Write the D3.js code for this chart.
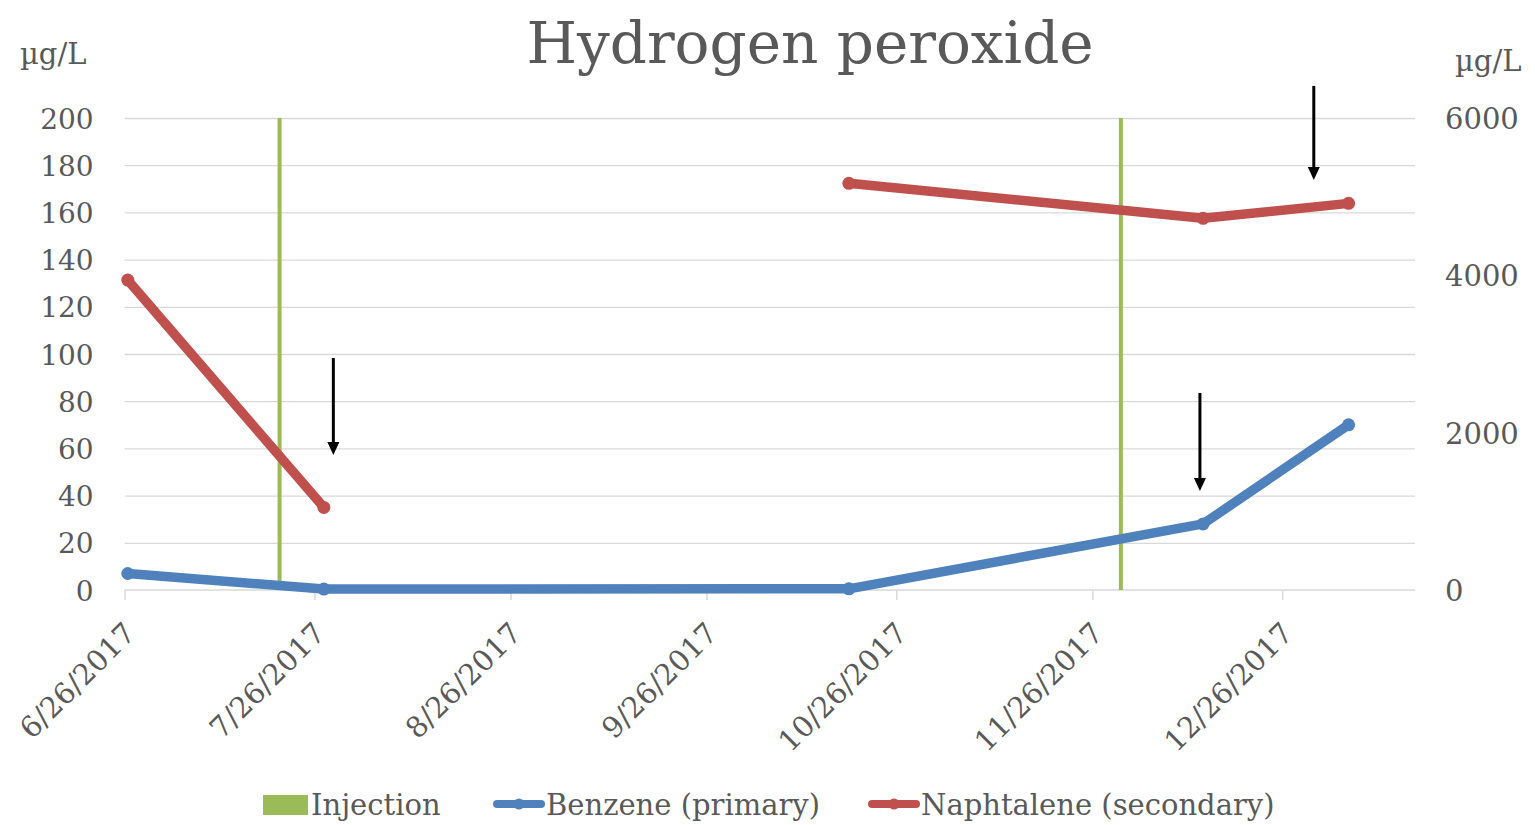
<!DOCTYPE html>
<html>
<head>
<meta charset="utf-8">
<script src="https://cdn.jsdelivr.net/npm/d3@7"></script>
<style>
  html, body { margin: 0; padding: 0; background: #fff; }
  svg { display: block; font-family: "DejaVu Serif", Georgia, serif; }
</style>
</head>
<body>
<script>
// ---------------- data ----------------
const titleText = "Hydrogen peroxide";
const unitLabel = "µg/L";
const xDomain = ["2017-06-26", "2018-01-16"];
const xTickDates = ["2017-06-26", "2017-07-26", "2017-08-26", "2017-09-26", "2017-10-26", "2017-11-26", "2017-12-26"];
const leftTicks = [0, 20, 40, 60, 80, 100, 120, 140, 160, 180, 200];
const rightTicks = [0, 2000, 4000, 6000];

const benzeneDates = ["2017-06-26", "2017-07-27", "2017-10-18", "2017-12-13", "2018-01-05"];
const benzeneValues = [7, 0.4, 0.5, 28, 70];

// naphthalene: null = no sample (gap in the line)
const naphtDates = ["2017-06-26", "2017-07-27", "2017-09-01", "2017-10-18", "2017-12-13", "2018-01-05"];
const naphtValues = [3940, 1050, null, 5170, 4725, 4915];

const injectionDates = ["2017-07-20", "2017-11-30"];

// annotation arrows (date, start value, tip value on the left axis)
const arrowDates = ["2017-07-29", "2017-12-13", "2017-12-31"];
const arrowFrom = [98.3, 83.5, 213.6];
const arrowTo = [57.2, 41.9, 173.7];

const legendLabels = ["Injection", "Benzene (primary)", "Naphtalene (secondary)"];

// ---------------- layout ----------------
const W = 1535, H = 825;
const plot = { left: 124.6, right: 1415, top: 118, bottom: 590 };
const colors = { grid: "#d9d9d9", text: "#595959", benzene: "#4f81bd", naphtalene: "#c0504d", injection: "#9bbb59" };

const parse = d3.timeParse("%Y-%m-%d");
const fmt = d3.timeFormat("%-m/%-d/%Y");
const mid = d => d3.timeHour.offset(d, 12); // points sit in the middle of their day slot

const x = d3.scaleTime().domain(xDomain.map(parse)).range([plot.left, plot.right]);
const yL = d3.scaleLinear().domain([0, 200]).range([plot.bottom, plot.top]);
const yR = d3.scaleLinear().domain([0, 6000]).range([plot.bottom, plot.top]);

const svg = d3.select("body").append("svg").attr("width", W).attr("height", H);

// gridlines
svg.append("g")
  .attr("transform", `translate(${plot.left},0)`)
  .call(d3.axisRight(yL).tickValues(leftTicks.filter(v => v > 0)).tickSize(plot.right - plot.left).tickFormat(""))
  .call(g => g.select(".domain").remove())
  .call(g => g.selectAll("line").attr("stroke", colors.grid).attr("stroke-width", 1.3));

// left axis labels
svg.append("g")
  .attr("transform", `translate(${plot.left - 31},0)`)
  .call(d3.axisLeft(yL).tickValues(leftTicks).tickSize(0).tickPadding(0))
  .call(g => g.select(".domain").remove())
  .call(g => g.selectAll("text").attr("fill", colors.text).attr("font-size", 28)
    .attr("font-family", "DejaVu Serif").attr("dy", "0.36em"));

// right axis labels
svg.append("g")
  .attr("transform", `translate(${plot.right + 30},0)`)
  .call(d3.axisRight(yR).tickValues(rightTicks).tickSize(0).tickPadding(0).tickFormat(d3.format("d")))
  .call(g => g.select(".domain").remove())
  .call(g => g.selectAll("text").attr("fill", colors.text).attr("font-size", 29)
    .attr("font-family", "DejaVu Serif").attr("dy", "0.36em"));

// x axis
const xAxis = svg.append("g")
  .attr("transform", `translate(0,${plot.bottom})`)
  .call(d3.axisBottom(x).tickValues(xTickDates.map(parse)).tickSize(10).tickFormat(fmt));
xAxis.select(".domain").attr("stroke", colors.grid).attr("stroke-width", 1.5)
  .attr("d", `M${plot.left},0H${plot.right}`);
xAxis.selectAll(".tick line").attr("stroke", colors.grid).attr("stroke-width", 1.5);
xAxis.selectAll(".tick text")
  .attr("fill", colors.text).attr("font-size", 29).attr("font-family", "DejaVu Serif")
  .attr("text-anchor", "end").attr("y", 0).attr("dy", 0)
  .attr("transform", "translate(12,45) rotate(-45)");

// injection lines
svg.append("g").selectAll("line").data(injectionDates.map(parse)).join("line")
  .attr("x1", d => x(mid(d))).attr("x2", d => x(mid(d)))
  .attr("y1", yL(200)).attr("y2", yL(0))
  .attr("stroke", colors.injection).attr("stroke-width", 4);

// series
const benz = benzeneDates.map((d, i) => ({ date: mid(parse(d)), v: benzeneValues[i] }));
const naph = naphtDates.map((d, i) => ({ date: mid(parse(d)), v: naphtValues[i] }));

const lineL = d3.line().defined(d => d.v != null).x(d => x(d.date)).y(d => yL(d.v));
const lineR = d3.line().defined(d => d.v != null).x(d => x(d.date)).y(d => yR(d.v));

svg.append("path").datum(naph).attr("d", lineR)
  .attr("fill", "none").attr("stroke", colors.naphtalene).attr("stroke-width", 9.5)
  .attr("stroke-linejoin", "round").attr("stroke-linecap", "round");
svg.append("g").selectAll("circle").data(naph.filter(d => d.v != null)).join("circle")
  .attr("cx", d => x(d.date)).attr("cy", d => yR(d.v)).attr("r", 6.5).attr("fill", colors.naphtalene);

svg.append("path").datum(benz).attr("d", lineL)
  .attr("fill", "none").attr("stroke", colors.benzene).attr("stroke-width", 9.5)
  .attr("stroke-linejoin", "round").attr("stroke-linecap", "round");
svg.append("g").selectAll("circle").data(benz).join("circle")
  .attr("cx", d => x(d.date)).attr("cy", d => yL(d.v)).attr("r", 6.5).attr("fill", colors.benzene);

// arrows
const arrows = arrowDates.map((d, i) => ({ date: parse(d), from: arrowFrom[i], to: arrowTo[i] }));
const ag = svg.append("g").selectAll("g").data(arrows).join("g");
ag.append("line")
  .attr("x1", d => x(d.date)).attr("x2", d => x(d.date))
  .attr("y1", d => yL(d.from)).attr("y2", d => yL(d.to) - 10)
  .attr("stroke", "#000").attr("stroke-width", 3);
ag.append("path")
  .attr("d", d => {
    const cx = x(d.date), ty = yL(d.to);
    return `M${cx - 6},${ty - 13}L${cx + 6},${ty - 13}L${cx},${ty}Z`;
  })
  .attr("fill", "#000");

// title
svg.append("text").attr("x", 810).attr("y", 63).attr("text-anchor", "middle")
  .attr("font-size", 58).attr("fill", colors.text).text(titleText);

// unit labels
svg.append("text").attr("x", 20).attr("y", 64).attr("font-size", 29).attr("fill", colors.text).text(unitLabel);
svg.append("text").attr("x", 1455).attr("y", 71).attr("font-size", 29).attr("fill", colors.text).text(unitLabel);

// legend
const lg = svg.append("g").attr("font-size", 29).attr("fill", colors.text);
lg.append("rect").attr("x", 263).attr("y", 795).attr("width", 45).attr("height", 20).attr("fill", colors.injection);
lg.append("text").attr("x", 311).attr("y", 815).text(legendLabels[0]);
[[493, colors.benzene, legendLabels[1]], [868, colors.naphtalene, legendLabels[2]]].forEach(([lx, c, t]) => {
  lg.append("line").attr("x1", lx + 4).attr("x2", lx + 48).attr("y1", 804).attr("y2", 804)
    .attr("stroke", c).attr("stroke-width", 8).attr("stroke-linecap", "round");
  lg.append("circle").attr("cx", lx + 26).attr("cy", 804).attr("r", 5.5).attr("fill", c);
  lg.append("text").attr("x", lx + 53).attr("y", 815).text(t);
});
</script>
</body>
</html>
